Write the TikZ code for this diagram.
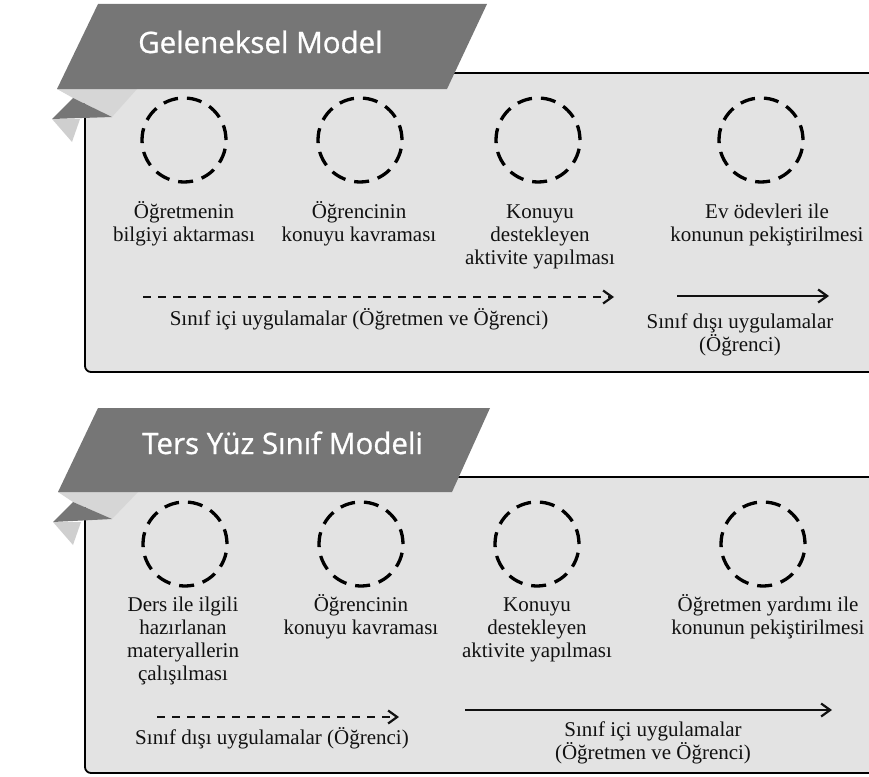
\documentclass[tikz,border=0pt]{standalone}
\usepackage{fontspec}
\setmainfont{Liberation Serif}
\newfontfamily\bannerfont[FakeBold=0.9]{Open Sans}
\usetikzlibrary{arrows.meta}
\definecolor{boxfill}{HTML}{E3E3E3}
\definecolor{bannergray}{HTML}{767676}
\definecolor{foldlight}{HTML}{D6D6D6}
\definecolor{foldlow}{HTML}{CFCFCF}
\definecolor{txt}{HTML}{111111}
\newcommand{\fl}{\rule{0pt}{17pt}}
\begin{document}
\begin{tikzpicture}[x=1pt,y=-1pt,
  panel/.style={fill=boxfill, draw=black, line width=1.8pt, rounded corners=6pt},
  bannershape/.style={fill=bannergray},
  circ/.style={draw=black, line width=3.3pt, dash pattern=on 15pt off 9pt, circle, minimum size=84pt, inner sep=0pt},
  lbl/.style={font=\fontsize{21}{23}\selectfont, align=center, inner sep=0pt, anchor=north, text=txt},
  title/.style={font=\bannerfont\fontsize{29.5}{30}\selectfont, text=white, anchor=base west, inner sep=0pt},
  tipstyle/.style={-{Straight Barb[length=9pt,width=13pt,line width=2.2pt]}},
  dasharrow/.style={tipstyle, line width=1.3pt, dash pattern=on 8pt off 7pt, draw=txt},
  solidarrow/.style={tipstyle, line width=1.7pt, draw=txt}
]
\useasboundingbox (0,0) rectangle (869,776);
\clip (0,0) rectangle (869,776);

% ---------- Panel 1 ----------
\draw[panel] (85,73) -- (85,372) -- (890,372) -- (890,73) -- cycle;
\fill[foldlight] (57,89) -- (137,89) -- (112,117) -- (73,98) -- cycle;
\fill[bannergray] (73,98) -- (112,117) -- (52,119) -- cycle;
\fill[foldlow] (52,119) -- (80,119) -- (72,142) -- cycle;
\fill[bannershape] (57,89) -- (98,4) -- (487,4) -- (447,89) -- cycle;
\node[title] (t1) at (138,53) {Geleneksel Model};

\node[circ] (c11) at (184,140) {};
\node[circ] (c12) at (360,140) {};
\node[circ] (c13) at (538,140) {};
\node[circ] (c14) at (761,140) {};

\node[lbl] (l11) at (184,201) {\fl Öğretmenin\\bilgiyi aktarması};
\node[lbl] (l12) at (359,201) {\fl Öğrencinin\\konuyu kavraması};
\node[lbl] (l13) at (540,201) {\fl Konuyu\\destekleyen\\aktivite yapılması};
\node[lbl] (l14) at (767,201) {\fl Ev ödevleri ile\\konunun pekiştirilmesi};

\coordinate (a1s) at (143,297);
\coordinate (a1e) at (614,297);
\draw[dasharrow] (a1s) -- (a1e);
\node[lbl] (s11) at (359,308) {\fl Sınıf içi uygulamalar (Öğretmen ve Öğrenci)};
\coordinate (a2s) at (677,296);
\coordinate (a2e) at (829,296);
\draw[solidarrow] (a2s) -- (a2e);
\node[lbl] (s12) at (740,311) {\fl Sınıf dışı uygulamalar\\(Öğrenci)};

% ---------- Panel 2 ----------
\draw[panel] (85,477) -- (85,773) -- (890,773) -- (890,477) -- cycle;
\fill[foldlight] (58,492) -- (138,492) -- (112,519) -- (73,502) -- cycle;
\fill[bannergray] (73,502) -- (112,519) -- (53,522) -- cycle;
\fill[foldlow] (53,522) -- (81,522) -- (73,545) -- cycle;
\fill[bannershape] (58,492) -- (98,408) -- (490,408) -- (452,492) -- cycle;
\node[title] (t2) at (142,454) {Ters Yüz Sınıf Modeli};

\node[circ] (c21) at (185,544) {};
\node[circ] (c22) at (361,544) {};
\node[circ] (c23) at (537,544) {};
\node[circ] (c24) at (763,544) {};

\node[lbl] (l21) at (183,594) {\fl Ders ile ilgili\\hazırlanan\\materyallerin\\çalışılması};
\node[lbl] (l22) at (361,594) {\fl Öğrencinin\\konuyu kavraması};
\node[lbl] (l23) at (537,594) {\fl Konuyu\\destekleyen\\aktivite yapılması};
\node[lbl] (l24) at (768,594) {\fl Öğretmen yardımı ile\\konunun pekiştirilmesi};

\coordinate (b1s) at (157,717);
\coordinate (b1e) at (399,717);
\draw[dasharrow] (b1s) -- (b1e);
\node[lbl] (s21) at (272,727) {\fl Sınıf dışı uygulamalar (Öğrenci)};
\coordinate (b2s) at (465,710);
\coordinate (b2e) at (832,710);
\draw[solidarrow] (b2s) -- (b2e);
\node[lbl] (s22) at (653,719) {\fl Sınıf içi uygulamalar\\(Öğretmen ve Öğrenci)};
\end{tikzpicture}
\end{document}
